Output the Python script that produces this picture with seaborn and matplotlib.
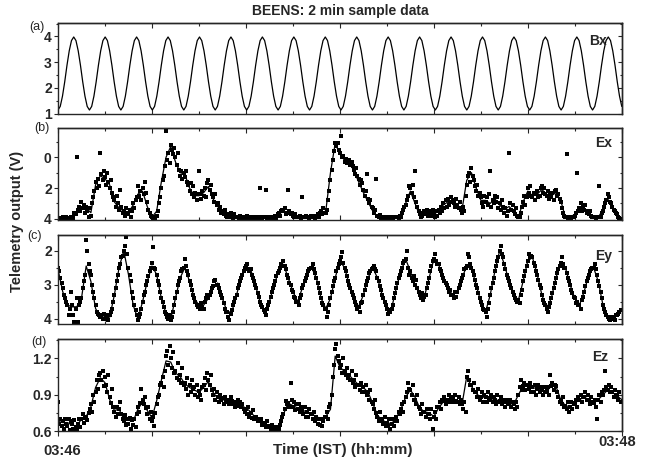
## BEENS 2 min sample data - four stacked telemetry panels
import numpy as np
import matplotlib
matplotlib.use("Agg")
import matplotlib.pyplot as plt
from matplotlib.ticker import MultipleLocator
import seaborn as sns

##1. data (values in volts, time in seconds from 03:46)
bx_line = [
    1.14, 1.28, 1.68, 2.24, 2.88, 3.44, 3.84, 3.98, 3.84, 3.44, 2.88, 2.24, 1.68, 1.28,
    1.14, 1.28, 1.68, 2.24, 2.88, 3.44, 3.84, 3.98, 3.84, 3.44, 2.88, 2.24, 1.68, 1.28,
    1.14, 1.28, 1.68, 2.24, 2.88, 3.44, 3.84, 3.98, 3.84, 3.44, 2.88, 2.24, 1.68, 1.28,
    1.14, 1.28, 1.68, 2.24, 2.88, 3.44, 3.84, 3.98, 3.84, 3.44, 2.88, 2.24, 1.68, 1.28,
    1.14, 1.28, 1.68, 2.24, 2.88, 3.44, 3.84, 3.98, 3.84, 3.44, 2.88, 2.24, 1.68, 1.28,
    1.14, 1.28, 1.68, 2.24, 2.88, 3.44, 3.84, 3.98, 3.84, 3.44, 2.88, 2.24, 1.68, 1.28,
    1.14, 1.28, 1.68, 2.24, 2.88, 3.44, 3.84, 3.98, 3.84, 3.44, 2.88, 2.24, 1.68, 1.28,
    1.14, 1.28, 1.68, 2.24, 2.88, 3.44, 3.84, 3.98, 3.84, 3.44, 2.88, 2.24, 1.68, 1.28,
    1.14, 1.28, 1.68, 2.24, 2.88, 3.44, 3.84, 3.98, 3.84, 3.44, 2.88, 2.24, 1.68, 1.28,
    1.14, 1.28, 1.68, 2.24, 2.88, 3.44, 3.84, 3.98, 3.84, 3.44, 2.88, 2.24, 1.68, 1.28,
    1.14, 1.28, 1.68, 2.24, 2.88, 3.44, 3.84, 3.98, 3.84, 3.44, 2.88, 2.24, 1.68, 1.28,
    1.14, 1.28, 1.68, 2.24, 2.88, 3.44, 3.84, 3.98, 3.84, 3.44, 2.88, 2.24, 1.68, 1.28,
    1.14, 1.28, 1.68, 2.24, 2.88, 3.44, 3.84, 3.98, 3.84, 3.44, 2.88, 2.24, 1.68, 1.28,
    1.14, 1.28, 1.68, 2.24, 2.88, 3.44, 3.84, 3.98, 3.84, 3.44, 2.88, 2.24, 1.68, 1.28,
    1.14, 1.28, 1.68, 2.24, 2.88, 3.44, 3.84, 3.98, 3.84, 3.44, 2.88, 2.24, 1.68, 1.28,
    1.14, 1.28, 1.68, 2.24, 2.88, 3.44, 3.84, 3.98, 3.84, 3.44, 2.88, 2.24, 1.68, 1.28,
    1.14, 1.28, 1.68, 2.24, 2.88, 3.44, 3.84, 3.98, 3.84, 3.44, 2.88, 2.24, 1.68, 1.28,
    1.14, 1.28, 1.68, 2.24, 2.88, 3.44, 3.84, 3.98, 3.84, 3.44, 2.88, 2.24, 1.68, 1.28,
]

## smoothed traces, one value per second (0..120 s)
ex_line = [
    4.0, 3.95, 3.95, 3.9, 3.5, 3.2, 3.3, 3.6, 1.8, 1.2,
    1.4, 1.8, 2.9, 3.3, 3.5, 3.6, 3.1, 2.4, 2.2, 3.2,
    3.9, 3.5, 1.6, 0.0, -0.7, 0.3, 1.0, 1.1, 2.0, 2.5,
    2.5, 2.3, 1.9, 2.7, 3.2, 3.6, 3.8, 3.85, 3.9, 3.9,
    3.9, 3.9, 3.9, 3.9, 3.9, 3.9, 3.9, 3.7, 3.5, 3.6,
    3.8, 3.85, 3.85, 3.85, 3.85, 3.85, 3.6, 3.5, 1.0, -0.9,
    -0.2, 0.2, 0.3, 0.9, 1.6, 2.3, 2.9, 3.5, 3.85, 3.9,
    3.9, 3.9, 3.9, 3.9, 3.0, 2.2, 3.0, 3.8, 3.6, 3.6,
    3.7, 3.5, 3.1, 2.9, 2.9, 3.1, 3.4, 1.5, 1.0, 2.0,
    2.8, 2.8, 3.0, 2.7, 3.1, 3.4, 3.2, 3.5, 3.9, 2.9,
    2.2, 2.5, 2.4, 2.1, 2.4, 2.5, 2.3, 2.8, 3.9, 3.9,
    3.7, 3.3, 3.4, 3.7, 3.9, 3.9, 3.4, 2.7, 3.3, 3.8,
    4.0,
]
ey_line = [
    2.55, 3.2, 3.6, 3.65, 3.65, 3.4, 2.45, 2.9, 3.7, 3.95,
    3.95, 3.95, 3.3, 2.5, 2.0, 2.7, 3.6, 4.0, 3.5, 2.9,
    2.45, 2.7, 3.4, 3.85, 4.0, 3.4, 2.8, 2.5, 2.9, 3.4,
    3.6, 3.6, 3.4, 3.05, 2.95, 3.4, 3.8, 3.8, 3.3, 2.8,
    2.45, 2.55, 3.0, 3.5, 3.8, 3.5, 3.0, 2.6, 2.4, 2.8,
    3.2, 3.5, 3.1, 2.7, 2.5, 2.8, 3.4, 3.7, 3.4, 2.8,
    2.3, 2.5, 3.0, 3.4, 3.65, 3.3, 2.8, 2.5, 2.8, 3.3,
    3.7, 3.7, 3.1, 2.6, 2.25, 2.6, 3.0, 3.3, 3.35, 2.8,
    2.25, 2.4, 2.8, 3.1, 3.3, 3.2, 2.8, 2.45, 2.5, 3.0,
    3.5, 3.8, 3.3, 2.6, 2.0, 2.4, 2.9, 3.3, 3.45, 2.9,
    2.3, 2.2, 2.7, 3.3, 3.7, 3.4, 2.8, 2.35, 2.5, 3.0,
    3.4, 3.6, 3.2, 2.7, 2.5, 2.9, 3.6, 3.95, 4.0, 3.9,
    3.75,
]
ez_line = [
    0.68, 0.67, 0.67, 0.65, 0.64, 0.70, 0.72, 0.80, 0.96, 1.04,
    1.00, 0.86, 0.77, 0.78, 0.70, 0.69, 0.68, 0.78, 0.84, 0.77,
    0.71, 0.85, 1.02, 1.18, 1.17, 1.08, 1.05, 0.99, 0.96, 0.94,
    0.92, 0.96, 1.01, 0.92, 0.87, 0.86, 0.85, 0.84, 0.83, 0.81,
    0.79, 0.76, 0.71, 0.69, 0.66, 0.64, 0.62, 0.63, 0.74, 0.83,
    0.81, 0.79, 0.77, 0.76, 0.74, 0.72, 0.70, 0.72, 0.78, 1.22,
    1.13, 1.09, 1.06, 1.02, 0.98, 0.96, 0.92, 0.83, 0.73, 0.69,
    0.67, 0.66, 0.71, 0.78, 0.88, 0.94, 0.88, 0.79, 0.76, 0.75,
    0.72, 0.79, 0.84, 0.86, 0.86, 0.84, 0.82, 1.05, 0.97, 0.91,
    0.88, 0.88, 0.87, 0.86, 0.85, 0.84, 0.83, 0.82, 0.90, 0.97,
    0.98, 0.96, 0.95, 0.94, 0.93, 0.97, 0.97, 0.86, 0.81, 0.80,
    0.83, 0.86, 0.88, 0.86, 0.83, 0.86, 0.90, 0.94, 0.92, 0.89,
    0.86,
]

## raw samples, four per second
ex_dots = [
    3.95, 4.02, 3.92, 3.98, 3.9, 4.0, 3.95, 3.88, 4.0, 3.92, 3.97, 3.9, 3.85, 3.95, 3.6, 3.7, 0.0, 3.4, 3.2, 3.5,
    2.9, 3.3, 3.1, 3.6, 3.2, 3.5, 3.9, 3.3, 3.8, 3.0, 2.6, 2.2, 1.6, 2.0, 1.4, 1.9, -0.3, 1.1, 1.5, 0.9,
    1.3, 1.8, 1.0, 1.6, 2.0, 1.5, 2.3, 2.6, 2.8, 3.2, 2.5, 3.0, 3.4, 2.1, 3.2, 3.6, 3.5, 3.8, 3.3, 3.7,
    3.6, 3.4, 3.9, 3.5, 3.0, 3.3, 2.8, 2.6, 1.9, 2.5, 2.2, 2.8, 2.0, 2.4, 1.6, 2.3, 2.9, 3.4, 3.6, 3.8,
    3.9, 4.0, 3.85, 3.95, 3.8, 3.5, 3.0, 2.6, 2.0, 1.5, 1.2, 0.6, -1.7, 0.2, -0.3, 0.4, -0.8, -0.5, -0.2, -0.6,
    0.0, 0.5, -0.25, 0.8, 1.2, 0.9, 1.4, 1.0, 1.3, 0.9, 1.6, 1.8, 2.2, 1.7, 2.4, 1.9, 2.6, 2.3, 2.8, 2.4,
    0.9, 2.4, 2.7, 2.2, 2.5, 2.0, 2.6, 1.7, 1.5, 2.1, 1.8, 2.4, 2.6, 2.9, 2.4, 3.1, 3.0, 3.4, 3.2, 3.6,
    3.5, 3.7, 3.4, 3.8, 3.9, 3.7, 3.85, 3.6, 3.8, 3.95, 3.7, 3.9, 3.9, 3.85, 4.0, 3.8, 3.95, 3.85, 3.9, 4.0,
    3.9, 3.8, 3.95, 3.85, 4.0, 3.9, 3.85, 3.95, 3.9, 4.02, 3.88, 3.95, 2.0, 3.9, 3.95, 3.85, 3.9, 2.1, 3.95, 4.0,
    3.85, 3.9, 3.95, 3.9, 3.9, 3.8, 3.95, 3.7, 3.6, 3.8, 3.5, 3.4, 3.5, 3.3, 3.7, 3.6, 2.1, 3.5, 3.7, 3.6,
    3.8, 3.9, 3.7, 3.85, 3.85, 3.9, 3.8, 3.95, 2.6, 3.85, 3.9, 3.8, 3.9, 3.85, 3.95, 3.8, 3.85, 3.9, 3.8, 3.95,
    3.9, 3.7, 3.85, 3.6, 3.5, 3.7, 3.3, 3.6, 3.6, 3.4, 2.8, 2.2, 1.5, 0.8, 0.2, -0.4, -0.9, -0.7, -0.95, -0.5,
    -0.3, -1.4, 0.0, -0.1, 0.3, 0.1, 0.4, 0.2, 0.2, 0.5, 0.3, 0.6, 0.8, 1.1, 0.7, 1.2, 1.4, 1.8, 1.5, 1.7,
    2.1, 2.5, 2.2, 1.1, 2.7, 3.0, 2.8, 3.2, 3.3, 3.6, 3.4, 1.4, 3.8, 3.9, 3.75, 3.95, 3.9, 3.85, 3.95, 3.9,
    3.95, 3.9, 3.85, 4.0, 3.9, 3.95, 3.85, 3.9, 3.85, 3.9, 3.95, 3.8, 3.9, 3.6, 3.4, 3.2, 3.1, 2.8, 2.5, 1.9,
    2.0, 2.3, 1.8, 2.6, 0.9, 2.9, 3.2, 3.5, 3.7, 3.9, 3.8, 3.6, 3.5, 3.7, 3.4, 3.8, 3.6, 3.5, 3.8, 3.4,
    3.7, 3.9, 3.5, 3.8, 3.4, 3.6, 3.2, 3.5, 3.0, 3.3, 2.8, 3.2, 2.7, 3.1, 2.9, 2.6, 2.8, 3.0, 3.2, 2.7,
    3.1, 3.3, 2.9, 3.4, 3.6, 3.2, 3.5, 2.5, 1.8, 1.2, 1.0, 1.6, 0.7, 1.2, 1.5, 1.9, 2.2, 1.8, 2.5, 2.3,
    2.6, 3.0, 3.2, 2.5, 2.9, 2.6, 3.1, 2.4, 0.9, 3.2, 2.8, 3.0, 2.5, 2.9, 2.6, 3.3, 3.0, 3.4, 2.8, 3.2,
    3.6, 3.3, 3.8, 3.5, -0.25, 3.0, 3.4, 3.1, 3.5, 3.7, 3.3, 3.8, 3.9, 3.85, 3.6, 3.2, 2.9, 2.5, 3.1, 2.6,
    2.0, 2.3, 1.9, 2.5, 2.6, 2.3, 2.8, 2.4, 2.2, 2.6, 2.5, 2.0, 1.9, 2.3, 2.0, 2.4, 2.5, 2.2, 2.7, 2.3,
    2.6, 2.3, 2.8, 2.2, 2.1, 2.5, 2.4, 2.7, 2.9, 3.3, 3.6, 3.8, 3.9, -0.2, 3.95, 3.85, 3.9, 4.0, 3.85, 3.9,
    3.8, 3.6, 1.0, 3.5, 3.3, 3.0, 3.5, 3.2, 3.4, 3.1, 3.6, 3.5, 3.7, 3.5, 3.8, 3.9, 3.9, 3.85, 3.95, 3.9,
    3.9, 1.9, 3.85, 3.6, 3.5, 3.2, 3.0, 2.8, 2.4, 2.6, 2.9, 3.0, 3.2, 3.4, 3.5, 3.6, 3.7, 3.9, 3.95, 4.0,
]
ey_dots = [
    2.5, 2.6, 2.8, 2.95, 3.1, 3.3, 3.4, 3.5, 3.6, 3.9, 3.7, 3.2, 3.6, 3.9, 4.1, 3.7, 3.4, 4.1, 3.6, 3.5,
    3.4, 3.1, 2.9, 2.7, 1.7, 2.0, 2.4, 2.6, 2.7, 3.0, 3.2, 3.4, 3.6, 3.8, 3.85, 3.9, 3.95, 3.9, 4.0, 3.85,
    4.0, 3.9, 3.95, 4.05, 3.9, 3.8, 3.7, 3.5, 3.3, 3.1, 2.9, 2.7, 2.5, 2.4, 2.2, 2.15, 2.0, 1.85, 1.6, 2.1,
    2.5, 2.7, 2.9, 3.2, 3.4, 3.6, 3.75, 3.9, 4.05, 3.95, 3.85, 3.7, 3.5, 3.3, 3.2, 3.0, 2.9, 2.75, 2.6, 2.5,
    2.35, 1.9, 2.5, 2.55, 2.7, 2.9, 3.0, 3.2, 3.4, 3.5, 3.65, 3.8, 3.85, 3.95, 4.0, 3.9, 4.05, 3.95, 3.8, 3.6,
    3.4, 3.2, 3.0, 2.9, 2.8, 2.6, 2.55, 2.5, 2.25, 2.45, 2.6, 2.7, 2.9, 3.0, 3.15, 3.3, 3.4, 3.5, 3.6, 3.65,
    3.6, 3.7, 3.55, 3.65, 3.7, 3.5, 3.4, 3.3, 3.4, 3.3, 3.2, 3.1, 3.05, 2.9, 2.85, 3.0, 3.0, 3.1, 3.2, 3.3,
    3.4, 3.55, 3.7, 3.8, 3.8, 3.95, 4.05, 3.85, 3.75, 3.6, 3.5, 3.4, 3.3, 3.1, 3.0, 2.9, 2.8, 2.7, 2.6, 2.5,
    2.45, 2.4, 2.55, 2.6, 2.55, 2.7, 2.8, 2.9, 3.0, 3.1, 3.25, 3.35, 3.5, 3.6, 3.65, 3.75, 3.8, 3.9, 3.7, 3.6,
    3.5, 3.35, 3.2, 3.1, 3.0, 2.9, 2.75, 2.65, 2.6, 2.5, 2.4, 2.45, 2.3, 2.45, 2.55, 2.7, 2.8, 2.95, 3.0, 3.15,
    3.2, 3.35, 3.4, 3.5, 3.5, 3.6, 3.4, 3.3, 3.1, 3.0, 2.9, 2.8, 2.7, 2.6, 2.55, 2.5, 2.5, 2.4, 2.55, 2.65,
    2.8, 2.95, 3.1, 3.25, 3.4, 3.55, 3.6, 3.7, 3.7, 3.95, 3.8, 3.6, 3.4, 3.2, 3.05, 2.9, 2.8, 2.6, 2.5, 2.4,
    2.3, 2.2, 2.05, 2.35, 2.5, 2.6, 2.75, 2.9, 3.0, 3.1, 3.2, 3.3, 3.4, 3.5, 3.6, 3.7, 3.65, 3.8, 3.55, 3.5,
    3.3, 3.15, 3.0, 2.9, 2.8, 2.65, 2.6, 2.55, 2.5, 2.45, 2.55, 2.6, 2.8, 2.9, 3.05, 3.15, 3.3, 3.4, 3.5, 3.6,
    3.7, 3.85, 3.75, 3.8, 3.7, 3.6, 3.4, 3.25, 3.1, 2.95, 2.8, 2.7, 2.6, 2.5, 2.35, 2.3, 2.25, 2.0, 2.5, 2.7,
    2.6, 2.8, 2.9, 2.75, 3.0, 2.85, 3.1, 3.2, 3.3, 3.4, 3.25, 3.45, 3.35, 3.3, 3.1, 2.95, 2.8, 2.6, 2.45, 2.3,
    2.25, 2.1, 2.3, 2.4, 2.4, 2.55, 2.6, 2.7, 2.8, 2.9, 2.95, 3.0, 3.1, 3.2, 3.15, 3.3, 3.3, 3.4, 3.2, 3.35,
    3.2, 3.1, 3.0, 2.9, 2.8, 2.7, 2.55, 2.5, 2.45, 2.1, 2.2, 2.4, 2.5, 2.6, 2.7, 2.85, 3.0, 3.1, 3.25, 3.4,
    3.5, 3.6, 3.7, 3.75, 3.8, 3.95, 3.7, 3.55, 3.3, 3.1, 2.95, 2.8, 2.6, 2.45, 2.3, 2.2, 2.0, 1.85, 2.1, 2.2,
    2.4, 2.55, 2.7, 2.8, 2.9, 3.0, 3.1, 3.2, 3.3, 3.4, 3.45, 3.5, 3.45, 3.55, 3.3, 3.15, 2.9, 2.75, 2.6, 2.45,
    2.3, 2.1, 2.2, 2.15, 2.2, 2.35, 2.45, 2.6, 2.7, 2.85, 3.0, 3.1, 3.3, 3.45, 3.55, 3.6, 3.7, 3.8, 3.65, 3.55,
    3.4, 3.25, 3.1, 2.95, 2.8, 2.65, 2.55, 2.45, 2.35, 2.2, 2.4, 2.5, 2.5, 2.65, 2.8, 2.9, 3.0, 3.15, 3.25, 3.35,
    3.4, 3.55, 3.5, 3.6, 3.6, 3.7, 3.45, 3.35, 3.2, 3.05, 2.9, 2.8, 2.7, 2.6, 2.55, 2.5, 2.5, 2.4, 2.55, 2.7,
    2.9, 3.05, 3.2, 3.4, 3.6, 3.7, 3.8, 3.9, 3.95, 4.0, 4.05, 3.95, 4.0, 3.95, 4.05, 3.9, 3.9, 3.85, 3.8, 3.75,
]
ez_dots = [
    0.84, 0.66, 0.70, 0.64, 0.68, 0.62, 0.70, 0.66, 0.64, 0.70, 0.61, 0.68, 0.66, 0.62, 0.69, 0.63, 0.60, 0.66, 0.70, 0.63,
    0.70, 0.74, 0.67, 0.71, 0.72, 0.69, 0.75, 0.78, 0.82, 0.76, 0.90, 0.84, 0.92, 1.02, 0.95, 1.06, 1.08, 1.02, 1.10, 0.97,
    1.05, 0.98, 0.92, 1.06, 0.88, 0.83, 0.95, 0.80, 0.76, 0.72, 0.80, 0.74, 0.78, 0.84, 0.74, 0.70, 0.68, 0.73, 0.65, 0.70,
    0.66, 0.71, 0.62, 0.69, 0.65, 0.70, 0.63, 0.74, 0.80, 0.76, 0.83, 0.95, 0.86, 0.82, 0.88, 0.79, 0.74, 0.80, 0.70, 0.76,
    0.68, 0.72, 0.64, 0.75, 0.82, 0.88, 0.90, 0.98, 1.00, 1.05, 0.96, 1.10, 1.22, 1.26, 1.15, 1.30, 1.20, 1.12, 1.25, 1.08,
    1.10, 1.04, 1.16, 1.02, 1.06, 1.00, 1.12, 0.98, 1.00, 0.95, 1.04, 0.90, 0.98, 0.92, 1.02, 0.95, 0.96, 0.90, 0.98, 0.88,
    0.93, 0.90, 0.86, 0.96, 0.98, 1.04, 0.94, 1.08, 1.02, 0.98, 1.06, 0.94, 0.90, 0.95, 0.86, 0.92, 0.88, 0.84, 0.90, 0.86,
    0.87, 0.82, 0.88, 0.85, 0.84, 0.86, 0.82, 0.88, 0.85, 0.82, 0.84, 0.80, 0.83, 0.86, 0.81, 0.84, 0.80, 0.82, 0.78, 0.76,
    0.78, 0.74, 0.80, 0.72, 0.75, 0.71, 0.77, 0.70, 0.70, 0.72, 0.68, 0.70, 0.68, 0.70, 0.65, 0.67, 0.66, 0.63, 0.68, 0.64,
    0.63, 0.61, 0.65, 0.62, 0.62, 0.60, 0.63, 0.61, 0.62, 0.65, 0.68, 0.72, 0.74, 0.78, 0.85, 0.82, 0.83, 0.80, 1.00, 0.86,
    0.80, 0.84, 0.77, 0.82, 0.78, 0.82, 0.76, 0.80, 0.77, 0.74, 0.80, 0.72, 0.76, 0.72, 0.78, 0.74, 0.74, 0.70, 0.76, 0.68,
    0.72, 0.66, 0.70, 0.65, 0.70, 0.64, 0.68, 0.72, 0.72, 0.76, 0.70, 0.80, 0.82, 0.90, 1.05, 1.15, 1.28, 1.32, 1.22, 1.18,
    1.12, 1.15, 1.08, 1.20, 1.10, 1.06, 1.12, 1.04, 1.06, 1.02, 1.10, 1.00, 1.02, 0.96, 1.06, 0.98, 0.98, 0.94, 1.00, 0.92,
    0.96, 0.92, 0.98, 0.90, 0.92, 0.86, 0.94, 0.84, 0.82, 0.78, 0.86, 0.75, 0.72, 0.68, 0.76, 0.70, 0.69, 0.66, 0.72, 0.64,
    0.67, 0.64, 0.70, 0.62, 0.66, 0.70, 0.64, 0.68, 0.72, 0.68, 0.76, 0.74, 0.78, 0.82, 0.76, 0.84, 0.88, 0.92, 1.00, 0.95,
    0.94, 0.90, 0.98, 0.86, 0.86, 0.82, 0.90, 0.80, 0.78, 0.74, 0.82, 0.76, 0.76, 0.72, 0.78, 0.74, 0.74, 0.70, 0.78, 0.62,
    0.72, 0.76, 0.70, 0.80, 0.80, 0.84, 0.78, 0.86, 0.85, 0.88, 0.82, 0.86, 0.86, 0.90, 0.84, 0.88, 0.87, 0.84, 0.90, 0.85,
    0.84, 0.88, 0.82, 0.86, 0.82, 0.78, 0.84, 0.76, 1.05, 1.10, 1.02, 0.98, 0.98, 0.94, 1.00, 0.92, 0.92, 0.88, 0.95, 0.86,
    0.88, 0.92, 0.84, 0.90, 0.88, 0.84, 0.92, 0.86, 0.87, 0.90, 0.84, 0.88, 0.86, 0.82, 0.90, 0.84, 0.85, 0.88, 0.82, 0.86,
    0.84, 0.80, 0.86, 0.82, 0.83, 0.86, 0.80, 0.84, 0.82, 0.78, 0.84, 0.80, 0.90, 0.96, 1.02, 0.94, 0.97, 1.00, 0.94, 0.98,
    0.98, 0.95, 1.00, 0.92, 0.96, 0.92, 0.98, 0.90, 0.95, 0.98, 0.92, 0.96, 0.94, 0.90, 0.96, 0.92, 0.93, 0.96, 0.90, 1.06,
    0.97, 1.00, 0.94, 0.98, 0.97, 0.92, 0.88, 0.84, 0.86, 0.82, 0.88, 0.80, 0.81, 0.78, 0.84, 0.76, 0.80, 0.84, 0.78, 0.82,
    0.83, 0.86, 0.80, 0.88, 0.86, 0.90, 0.84, 0.88, 0.88, 0.92, 0.86, 0.90, 0.86, 0.82, 0.88, 0.84, 0.83, 0.86, 0.80, 0.70,
    0.86, 0.90, 0.84, 0.92, 0.90, 0.94, 1.10, 0.96, 0.94, 0.98, 0.92, 0.96, 0.92, 0.88, 0.94, 0.90, 0.89, 0.86, 0.92, 0.84,
]

panel_tags = ['(a)', '(b)', '(c)', '(d)']
series_names = ['Bx', 'Ex', 'Ey', 'Ez']
bx_yticks = [1, 2, 3, 4]
ex_yticks = [0, 2, 4]
ey_yticks = [2, 3, 4]
ez_yticks = [0.6, 0.9, 1.2]
ez_ytick_labels = ['0.6', '0.9', '1.2']

assert len(ex_dots) == len(ey_dots) == len(ez_dots) == 480
assert len(ex_line) == len(ey_line) == len(ez_line) == 121

## time axes in seconds after 03:46
bx_time = np.linspace(0, 120, len(bx_line))
line_time = np.arange(len(ex_line))
dot_time = np.arange(len(ex_dots)) * 0.25

##2. style
sns.set_style("ticks")
plt.rcParams['font.family'] = ['Liberation Sans', 'DejaVu Sans']
plt.rcParams['font.weight'] = 'bold'
plt.rcParams['axes.linewidth'] = 1.0

fig = plt.figure(figsize=(6.48, 4.62), dpi=100)

## panel boxes in figure fractions [left, bottom, width, height]
boxes = [
    [0.0895, 0.753, 0.870, 0.197],
    [0.0895, 0.524, 0.870, 0.199],
    [0.0895, 0.299, 0.870, 0.193],
    [0.0895, 0.067, 0.870, 0.199],
]
ylims = [(0.98, 4.52), (4.07, -1.9), (4.15, 1.53), (0.6, 1.36)]
ytick_sets = [bx_yticks, ex_yticks, ey_yticks, ez_yticks]
ytick_labels = [None, None, None, ez_ytick_labels]
yminor = [0.5, 1, 0.5, 0.15]
name_pos = [(0.957, 0.80), (0.968, 0.84), (0.968, 0.76), (0.962, 0.80)]
tag_pos = [(37, 27), (42, 128), (34, 236), (39, 342)]

traces = [(bx_time, bx_line, None), (line_time, ex_line, ex_dots),
          (line_time, ey_line, ey_dots), (line_time, ez_line, ez_dots)]

for i, (tx, ty, dots) in enumerate(traces):
    ax = fig.add_axes(boxes[i])
    if dots is not None:
        sns.scatterplot(x=dot_time, y=dots, ax=ax, marker='s', s=6.5,
                        color='black', linewidth=0, legend=False)
    sns.lineplot(x=tx, y=ty, ax=ax, color='black', linewidth=0.9,
                 estimator=None, sort=False)
    ax.set_xlim(0, 120)
    ax.set_ylim(*ylims[i])
    ax.set_xlabel('')
    ax.set_ylabel('')

    ## x ticks every 10 s (majors every 20 s), no labels
    ax.xaxis.set_major_locator(MultipleLocator(20))
    ax.xaxis.set_minor_locator(MultipleLocator(10))
    xdir = 'out' if i == 3 else 'in'
    ax.tick_params(axis='x', which='major', direction=xdir, length=3.5, width=0.8,
                   labelbottom=False)
    ax.tick_params(axis='x', which='minor', direction=xdir, length=2, width=0.8)

    ## y ticks on left, bold labels
    if ytick_labels[i] is None:
        ax.set_yticks(ytick_sets[i])
    else:
        ax.set_yticks(ytick_sets[i], labels=ytick_labels[i])
    ax.yaxis.set_minor_locator(MultipleLocator(yminor[i]))
    ax.tick_params(axis='y', which='major', direction='out', length=3, width=0.8,
                   labelsize=10, pad=1.5)
    ax.tick_params(axis='y', which='minor', direction='out', length=1.8, width=0.8)

    ## inward ticks on top and right
    top = ax.secondary_xaxis('top')
    top.xaxis.set_major_locator(MultipleLocator(20))
    top.xaxis.set_minor_locator(MultipleLocator(10))
    top.tick_params(which='major', direction='in', length=3.5, width=0.8, labeltop=False)
    top.tick_params(which='minor', direction='in', length=2, width=0.8)
    right = ax.secondary_yaxis('right')
    right.set_yticks(ytick_sets[i])
    right.yaxis.set_minor_locator(MultipleLocator(yminor[i]))
    right.tick_params(which='major', direction='in', length=3, width=0.8, labelright=False)
    right.tick_params(which='minor', direction='in', length=1.8, width=0.8)

    ax.text(name_pos[i][0], name_pos[i][1], series_names[i], transform=ax.transAxes,
            ha='center', va='center', fontsize=10, fontweight='bold')
    fig.text(tag_pos[i][0] / 648, 1 - tag_pos[i][1] / 462, panel_tags[i],
             ha='center', va='center', fontsize=9, fontweight='normal')

##3. figure texts
fig.text(340 / 648, 1 - 11 / 462, 'BEENS: 2 min sample data',
         ha='center', va='center', fontsize=10, fontweight='bold')
fig.text(17 / 648, 1 - 221 / 462, 'Telemetry output (V)', rotation=90,
         ha='center', va='center', fontsize=10.5, fontweight='bold')
fig.text(343 / 648, 1 - 450 / 462, 'Time (IST) (hh:mm)',
         ha='center', va='center', fontsize=11, fontweight='bold')
fig.text(62 / 648, 1 - 451 / 462, '03:46', ha='center', va='center',
         fontsize=10.5, fontweight='bold')
fig.text(617 / 648, 1 - 442 / 462, '03:48', ha='center', va='center',
         fontsize=10.5, fontweight='bold')

fig.savefig('out.png', dpi=100)
